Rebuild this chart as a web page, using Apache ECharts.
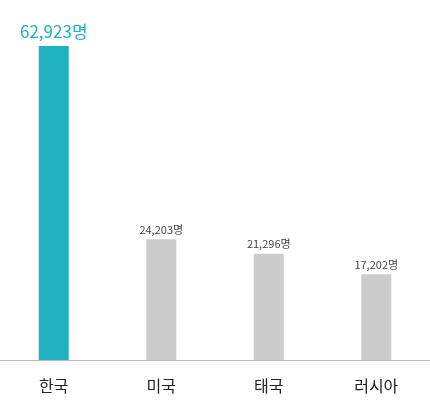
<!DOCTYPE html>
<html><head><meta charset="utf-8">
<script src="https://cdn.jsdelivr.net/npm/echarts@6/dist/echarts.min.js"></script>
<style>html,body{margin:0;padding:0;background:#fff}#c{width:430px;height:400px}</style>
</head><body><div id="c"></div>
<script>
const categories = ['한국', '미국', '태국', '러시아'];
const values = [62923, 24203, 21296, 17202];

const chart = echarts.init(document.getElementById('c'));
chart.setOption({
  animation: false,
  grid: { left: 0, right: 0, top: 46, bottom: 40 },
  xAxis: {
    type: 'category',
    data: categories,
    axisTick: { show: false },
    axisLine: { lineStyle: { color: '#bbbbbb' } },
    axisLabel: { color: '#222', fontSize: 16, margin: 18, fontFamily: 'Noto Sans CJK KR' }
  },
  yAxis: { type: 'value', min: 0, max: 62923, show: false },
  series: [{
    type: 'bar',
    barWidth: 30,
    data: values.map((v, i) => ({
      value: v,
      itemStyle: { color: i === 0 ? '#20b2c0' : '#cccccc' },
      label: i === 0
        ? { color: '#20b2c0', fontSize: 17, distance: 6 }
        : { color: '#444', fontSize: 11, distance: 4 }
    })),
    label: {
      show: true,
      position: 'top',
      fontFamily: 'Noto Sans CJK KR',
      formatter: p => p.value.toLocaleString('en-US') + '명'
    }
  }]
});
</script></body></html>
